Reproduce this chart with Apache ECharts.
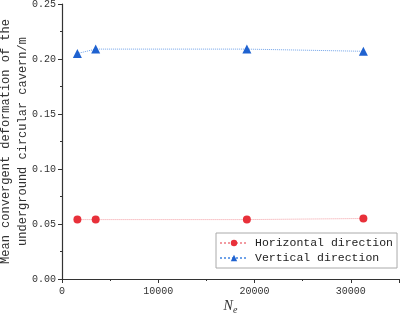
<!DOCTYPE html>
<html>
<head>
<meta charset="utf-8">
<script src="https://cdn.jsdelivr.net/npm/echarts@6/dist/echarts.min.js"></script>
<style>
  html, body { margin: 0; padding: 0; background: #fff; }
  #main { width: 400px; height: 322px; }
</style>
</head>
<body>
<div id="main"></div>
<script>
// values
const elementCounts = [1600, 3500, 19200, 31300];
const horizontalDeform = [0.054, 0.054, 0.054, 0.055];
const verticalDeform = [0.205, 0.209, 0.209, 0.207];
const seriesNames = ['Horizontal direction', 'Vertical direction'];

const chartDom = document.getElementById('main');
const myChart = echarts.init(chartDom);

const monoFont = '"Liberation Mono", "DejaVu Sans Mono", monospace';
const axisColor = '#333';

const pairs = (xs, ys) => xs.map((x, i) => [x, ys[i]]);

const option = {
  animation: false,
  grid: { left: 62, top: 4, right: 1, bottom: 43, containLabel: false, outerBoundsMode: 'none' },
  legend: {
    orient: 'vertical',
    left: 216,
    top: 233,
    padding: [4, 4, 4, 3],
    itemGap: 3,
    itemWidth: 28,
    itemHeight: 8,
    borderColor: '#aaa',
    borderWidth: 1,
    textStyle: { fontFamily: monoFont, fontSize: 11.5, color: '#222', padding: [0, 0, 0, 2] },
    data: seriesNames
  },
  xAxis: {
    type: 'value',
    min: 0,
    max: 35000,
    interval: 10000,
    name: '{n|N}{s|e}',
    nameLocation: 'middle',
    nameGap: 18,
    nameMoveOverlap: false,
    nameTextStyle: {
      rich: {
        n: { fontFamily: '"Liberation Serif", serif', fontStyle: 'italic', fontSize: 14, color: '#333' },
        s: { fontFamily: '"Liberation Serif", serif', fontStyle: 'italic', fontSize: 10, color: '#333', padding: [8, 0, 0, 0] }
      }
    },
    axisLine: { show: true, lineStyle: { color: axisColor, width: 1.2 } },
    axisTick: { show: true, length: 4, lineStyle: { color: axisColor } },
    minorTick: { show: true, splitNumber: 2, length: 2, lineStyle: { color: axisColor } },
    axisLabel: {
      fontFamily: monoFont,
      fontSize: 10,
      color: '#333',
      margin: 7,
      showMaxLabel: false,
      formatter: v => String(v)
    },
    splitLine: { show: false }
  },
  yAxis: {
    type: 'value',
    min: 0,
    max: 0.25,
    interval: 0.05,
    name: 'Mean convergent deformation of the\nunderground circular cavern/m',
    nameLocation: 'middle',
    nameGap: 31,
    nameMoveOverlap: false,
    nameTextStyle: { fontFamily: monoFont, fontSize: 12, color: '#333', lineHeight: 17 },
    axisLine: { show: true, lineStyle: { color: axisColor, width: 1.2 } },
    axisTick: { show: true, length: 4, lineStyle: { color: axisColor } },
    minorTick: { show: true, splitNumber: 2, length: 2, lineStyle: { color: axisColor } },
    axisLabel: {
      fontFamily: monoFont,
      fontSize: 10,
      color: '#333',
      margin: 6,
      formatter: v => v.toFixed(2)
    },
    splitLine: { show: false }
  },
  series: [
    {
      name: seriesNames[0],
      type: 'line',
      data: pairs(elementCounts, horizontalDeform),
      symbol: 'circle',
      symbolSize: 8,
      itemStyle: { color: '#e8303a' },
      lineStyle: { color: '#f29aa0', width: 1, type: 'dotted' }
    },
    {
      name: seriesNames[1],
      type: 'line',
      data: pairs(elementCounts, verticalDeform),
      symbol: 'triangle',
      symbolSize: 9,
      itemStyle: { color: '#1f62d0' },
      lineStyle: { color: '#6fa2e8', width: 1, type: 'dotted' }
    }
  ]
};

option && myChart.setOption(option);
</script>
</body>
</html>
